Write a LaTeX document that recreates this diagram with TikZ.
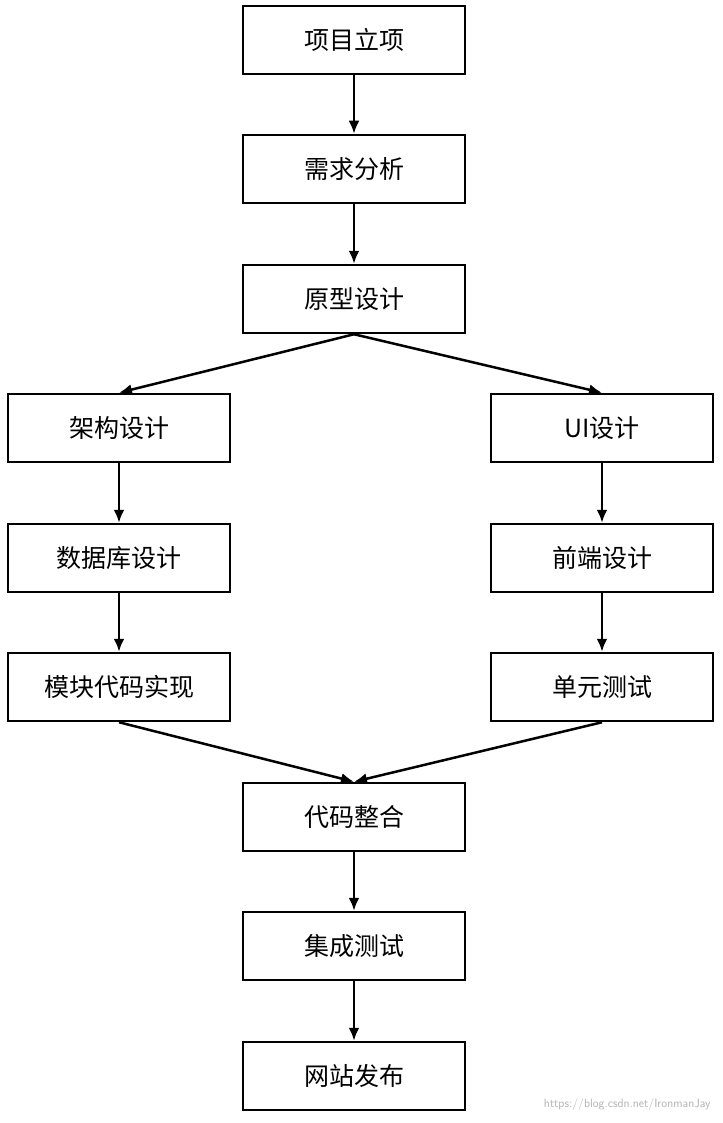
\documentclass[tikz,border=0pt]{standalone}
\usepackage{fontspec}
\setmainfont{Noto Sans CJK SC}
\usetikzlibrary{arrows.meta}
\begin{document}
\begin{tikzpicture}[x=1pt,y=-1pt,
  box/.style={draw,line width=2.5pt,minimum width=222pt,minimum height=68pt,inner sep=0pt,font=\fontsize{25}{25}\selectfont},
  arr/.style={line width=2.5pt,-{Latex[length=13pt,width=11pt]}}]
\useasboundingbox[fill=white] (0,0) rectangle (722,1123);
\node[box] (a) at (354,40) {项目立项};
\node[box] (b) at (354,169) {需求分析};
\node[box] (c) at (354,299) {原型设计};
\node[box] (l1) at (119,428) {架构设计};
\node[box] (l2) at (119,558) {数据库设计};
\node[box] (l3) at (119,687) {模块代码实现};
\node[box] (r1) at (602,428) {UI设计};
\node[box] (r2) at (602,558) {前端设计};
\node[box] (r3) at (602,687) {单元测试};
\node[box] (d) at (354,817) {代码整合};
\node[box] (e) at (354,946) {集成测试};
\node[box] (f) at (354,1076) {网站发布};
\node[anchor=east,text=gray!60,font=\sffamily\fontsize{12}{12}\selectfont] (w) at (714,1104) {https://blog.csdn.net/IronmanJay};
\draw[arr] (a.south) -- (b.north);
\draw[arr] (b.south) -- (c.north);
\draw[arr] (c.south) -- (l1.north);
\draw[arr] (c.south) -- (r1.north);
\draw[arr] (l1.south) -- (l2.north);
\draw[arr] (l2.south) -- (l3.north);
\draw[arr] (r1.south) -- (r2.north);
\draw[arr] (r2.south) -- (r3.north);
\draw[arr] (l3.south) -- (d.north);
\draw[arr] (r3.south) -- (d.north);
\draw[arr] (d.south) -- (e.north);
\draw[arr] (e.south) -- (f.north);
\end{tikzpicture}
\end{document}
